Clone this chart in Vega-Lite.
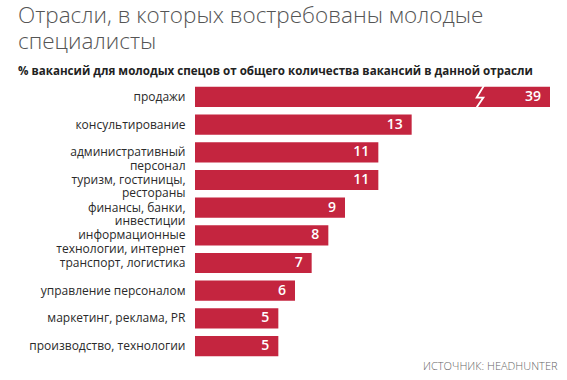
{
  "$schema": "https://vega.github.io/schema/vega-lite/v6.json",
  "width": 355,
  "height": 277,
  "autosize": "none",
  "padding": {"left": 195, "top": 83, "right": 17, "bottom": 20},
  "background": "white",
  "title": {
    "text": ["Отрасли, в которых востребованы молодые", "специалисты"],
    "subtitle": "% вакансий для молодых спецов от общего количества вакансий в данной отрасли",
    "anchor": "start",
    "frame": "group",
    "dx": -177,
    "offset": 5,
    "font": "Open Sans",
    "fontSize": 22.5,
    "fontWeight": 300,
    "color": "#555555",
    "lineHeight": 26,
    "subtitleFont": "Open Sans",
    "subtitleFontSize": 11.6,
    "subtitleFontWeight": "bold",
    "subtitleColor": "#222222",
    "subtitlePadding": 12
  },
  "data": {
    "values": [
      {"category": "продажи", "value": 39},
      {"category": "консультирование", "value": 13},
      {"category": "административный\nперсонал", "value": 11},
      {"category": "туризм, гостиницы,\nрестораны", "value": 11},
      {"category": "финансы, банки,\nинвестиции", "value": 9},
      {"category": "информационные\nтехнологии, интернет", "value": 8},
      {"category": "транспорт, логистика", "value": 7},
      {"category": "управление персоналом", "value": 6},
      {"category": "маркетинг, реклама, PR", "value": 5},
      {"category": "производство, технологии", "value": 5}
    ]
  },
  "encoding": {
    "y": {
      "field": "category",
      "type": "nominal",
      "sort": null,
      "scale": {"paddingInner": 0.27, "paddingOuter": 0.14},
      "axis": {
        "title": null,
        "domain": false,
        "ticks": false,
        "labelPadding": 10,
        "labelFont": "Open Sans",
        "labelFontSize": 12,
        "labelColor": "#2a2a2a",
        "labelLineHeight": 13.5,
        "labelExpr": "split(datum.label, '\\n')"
      }
    },
    "x": {
      "field": "value",
      "type": "quantitative",
      "scale": {"domain": [0, 21.3], "clamp": true, "nice": false},
      "axis": {
        "title": "ИСТОЧНИК: HEADHUNTER",
        "titleAnchor": "end",
        "titleFont": "Open Sans",
        "titleFontSize": 11,
        "titleFontWeight": 300,
        "titleColor": "#666666",
        "titlePadding": 0,
        "titleX": 362,
        "titleAlign": "right",
        "labels": false,
        "ticks": false,
        "domain": false,
        "grid": false
      }
    }
  },
  "layer": [
    {"mark": {"type": "bar", "color": "#c4253f"}},
    {
      "mark": {"type": "text", "align": "right", "dx": -9, "color": "white", "font": "Open Sans", "fontSize": 14, "fontWeight": 600},
      "encoding": {"text": {"field": "value", "type": "quantitative"}}
    },
    {
      "data": {"values": [{"category": "продажи", "breakAt": 17.1}]},
      "mark": {"type": "point", "shape": "M 0.35 -1 L -0.3 0.05 L 0.3 0.05 L -0.35 1", "size": 500, "filled": false, "stroke": "white", "strokeWidth": 1.8, "opacity": 1},
      "encoding": {"x": {"field": "breakAt", "type": "quantitative"}}
    }
  ],
  "config": {"view": {"stroke": null}}
}
